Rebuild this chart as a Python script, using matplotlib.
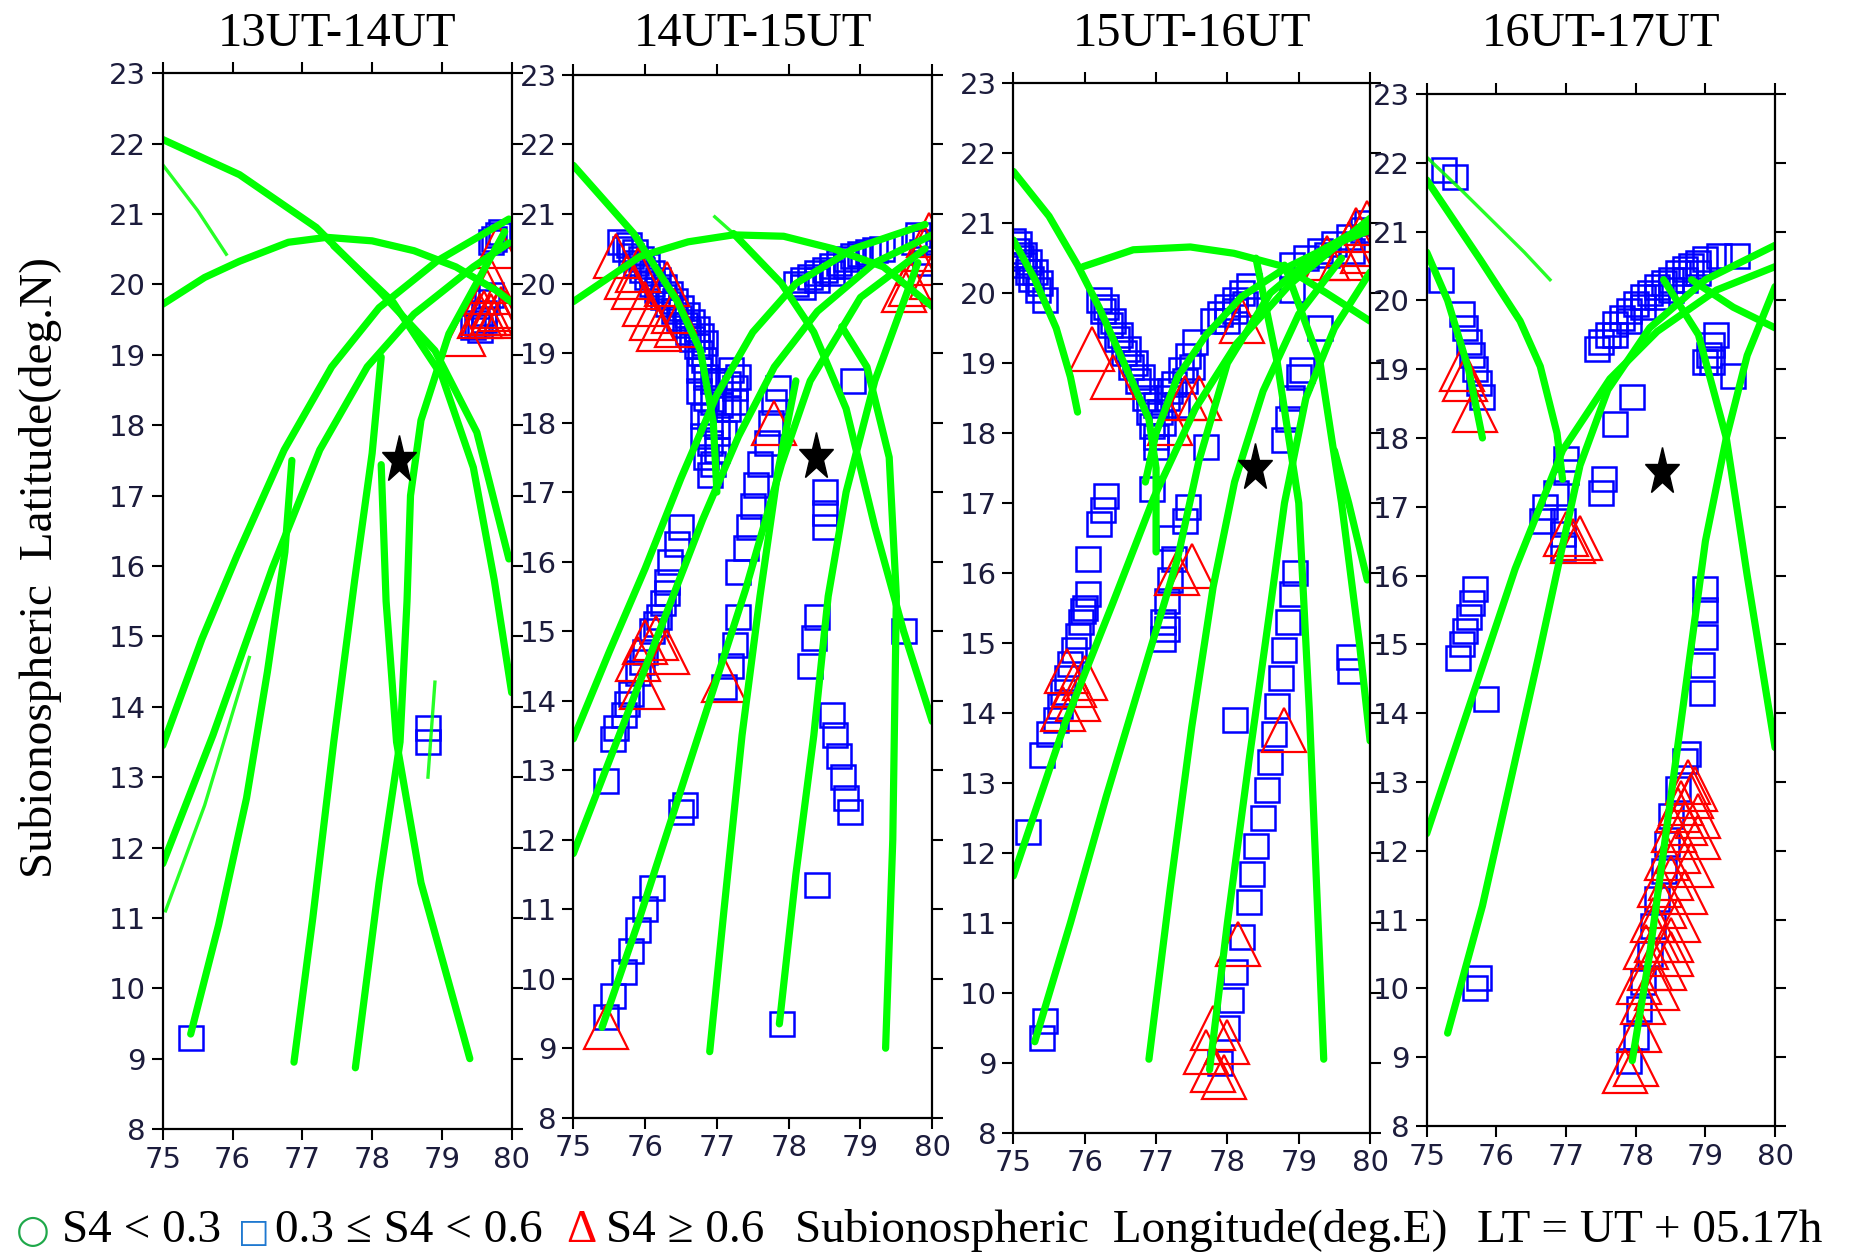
import matplotlib.pyplot as plt
from matplotlib.markers import MarkerStyle
from matplotlib.transforms import Affine2D

plt.rcParams['font.family'] = ['Liberation Serif', 'DejaVu Serif', 'DejaVu Sans']

lon_ticks = [75, 76, 77, 78, 79, 80]
lat_ticks = list(range(8, 24))
station = (78.38, 17.5)
titles = ['13UT-14UT', '14UT-15UT', '15UT-16UT', '16UT-17UT']

# ---- 13UT-14UT ----
p1_tracks = [
    [(75.0, 22.06), (76.1, 21.56), (77.2, 20.81), (78.1, 19.91), (78.9, 19.06), (79.5, 17.9), (79.96, 16.1)],
    [(75.0, 19.72), (75.6, 20.1), (76.1, 20.33), (76.8, 20.6), (77.35, 20.67), (78.0, 20.62), (78.6, 20.48),
     (79.2, 20.25), (79.77, 19.92), (80.0, 19.75)],
    [(77.45, 20.55), (78.3, 19.75), (79.0, 18.7), (79.45, 17.4), (79.75, 15.8), (80.0, 14.2)],
    [(75.0, 13.45), (75.56, 14.96), (76.06, 16.14), (76.74, 17.65), (77.42, 18.83), (78.1, 19.67),
     (78.94, 20.34), (79.96, 20.93)],
    [(75.0, 11.77), (75.72, 13.6), (76.57, 15.97), (77.25, 17.65), (77.93, 18.83), (78.6, 19.58),
     (79.45, 20.25), (79.96, 20.59)],
    [(75.4, 9.35), (75.8, 10.9), (76.2, 12.7), (76.5, 14.5), (76.75, 16.2), (76.85, 17.5)],
    [(76.88, 8.95), (77.15, 11.0), (77.45, 13.5), (77.75, 15.8), (78.0, 17.6), (78.13, 18.97)],
    [(77.76, 8.87), (78.1, 11.5), (78.4, 13.5), (78.5, 15.5), (78.55, 17.0), (78.7, 18.07), (79.1, 19.3),
     (79.9, 20.75)],
    [(78.13, 17.44), (78.2, 15.5), (78.35, 13.5), (78.7, 11.5), (79.4, 9.0)],
]
p1_thin = [
    [(75.0, 21.7), (75.5, 21.05), (75.91, 20.43)],
    [(75.04, 11.1), (75.6, 12.6), (76.24, 14.7)],
    [(78.9, 14.35), (78.8, 13.0)],
]
p1_mid = [(75.4, 9.3), (78.8, 13.5), (78.8, 13.7), (79.55, 19.35), (79.5, 19.45), (79.6, 19.6),
          (79.65, 19.75), (79.7, 19.85), (79.6, 19.5), (79.45, 19.4), (79.7, 20.6), (79.8, 20.7),
          (79.75, 20.65), (79.85, 20.75)]
p1_high = [(79.8, 20.55), (79.3, 19.3), (79.6, 19.6), (79.7, 19.55), (79.8, 19.6), (79.85, 19.65),
           (79.9, 19.6), (79.65, 19.9), (79.7, 20.05), (79.75, 19.7), (79.55, 19.55)]

# ---- 14UT-15UT ----
p2_tracks = [
    [(75.0, 21.7), (75.84, 20.72), (76.44, 19.76), (76.77, 19.04), (76.95, 18.0), (77.0, 17.0)],
    [(75.0, 19.74), (75.93, 20.39), (76.6, 20.6), (77.23, 20.7), (77.93, 20.68), (78.62, 20.5),
     (79.32, 20.24), (80.0, 19.67)],
    [(77.23, 20.72), (77.9, 20.0), (78.35, 19.3), (78.8, 18.2), (79.2, 16.5), (79.6, 15.0), (80.0, 13.7)],
    [(78.74, 19.38), (79.09, 18.8), (79.4, 17.5), (79.5, 15.5), (79.45, 12.0), (79.35, 9.0)],
    [(75.0, 13.45), (75.5, 14.7), (76.0, 15.9), (76.5, 17.2), (77.0, 18.4), (77.5, 19.3), (78.1, 20.0),
     (78.9, 20.5), (79.9, 20.85)],
    [(75.0, 11.8), (75.6, 13.4), (76.2, 15.0), (76.8, 16.6), (77.3, 17.8), (77.8, 18.8), (78.4, 19.6),
     (79.2, 20.3), (80.0, 20.7)],
    [(75.4, 9.3), (75.9, 10.8), (76.4, 12.4), (76.9, 14.0), (77.4, 15.6), (77.9, 17.4), (78.3, 18.6),
     (79.0, 19.8), (79.9, 20.5)],
    [(76.9, 8.95), (77.1, 11.0), (77.35, 13.5), (77.6, 15.5), (77.85, 17.3), (78.1, 18.6)],
    [(77.87, 9.35), (78.1, 11.5), (78.35, 13.5), (78.55, 15.5), (78.8, 17.0), (79.2, 18.6), (79.8, 20.3)],
]
p2_thin = [
    [(76.97, 20.96), (77.23, 20.72)],
]
p2_mid = [(75.65, 20.6), (75.72, 20.5), (75.8, 20.4), (75.88, 20.3), (75.95, 20.2), (76.02, 20.1),
          (76.1, 20.0), (76.17, 19.9), (76.25, 19.8), (76.32, 19.7), (76.4, 19.6), (76.47, 19.5),
          (76.55, 19.4), (76.6, 19.3), (76.66, 19.2), (76.72, 19.1), (76.77, 19.0), (76.82, 18.9),
          (75.78, 20.55), (75.86, 20.45), (75.94, 20.35), (76.02, 20.25), (76.1, 20.15), (76.18, 20.05),
          (76.26, 19.95), (76.34, 19.85), (76.42, 19.75), (76.5, 19.65), (76.58, 19.55), (76.66, 19.45),
          (76.72, 19.35), (76.78, 19.25), (76.84, 19.15),
          (76.75, 18.75), (76.85, 18.65), (76.95, 18.6), (77.05, 18.6), (77.15, 18.55), (77.25, 18.5),
          (76.75, 18.45), (76.85, 18.35), (76.95, 18.3), (77.05, 18.25), (77.15, 18.2), (77.25, 18.3),
          (76.8, 18.1), (76.9, 18.0), (77.0, 17.95), (77.1, 17.85), (76.8, 17.8), (76.9, 17.7),
          (77.0, 17.6), (76.85, 17.5), (76.95, 17.4), (76.9, 17.25), (77.3, 18.65), (77.2, 18.75),
          (76.5, 16.5), (76.45, 16.25), (76.35, 16.0), (76.3, 15.7), (76.25, 15.4), (76.2, 15.2),
          (76.1, 15.0), (76.0, 14.7), (75.9, 14.4), (75.8, 14.1), (75.7, 13.8), (75.6, 13.6),
          (75.55, 13.45), (75.45, 12.85), (76.3, 15.55), (76.15, 15.1), (75.95, 14.55), (75.75, 13.95),
          (75.45, 9.45), (75.55, 9.75), (75.7, 10.1), (75.8, 10.4), (75.9, 10.7), (76.0, 11.0),
          (76.1, 11.3), (76.5, 12.4), (76.55, 12.5),
          (77.1, 14.2), (77.2, 14.5), (77.25, 14.8), (77.3, 15.2), (77.3, 15.85), (77.4, 16.2),
          (77.45, 16.5), (77.5, 16.8), (77.55, 17.1), (77.6, 17.4), (77.7, 17.7), (77.75, 18.0),
          (77.8, 18.3), (77.85, 18.5),
          (78.5, 17.0), (78.5, 16.7), (78.5, 16.5), (78.4, 15.2), (78.35, 14.9), (78.3, 14.5),
          (78.6, 13.8), (78.65, 13.5), (78.7, 13.2), (78.75, 12.9), (78.8, 12.6), (78.85, 12.4),
          (78.4, 11.35), (77.9, 9.35), (78.9, 18.6), (79.6, 15.0),
          (78.1, 20.0), (78.2, 20.05), (78.3, 20.1), (78.4, 20.15), (78.5, 20.2), (78.6, 20.25),
          (78.7, 20.3), (78.8, 20.35), (78.9, 20.4), (79.0, 20.42), (79.1, 20.45), (79.2, 20.48),
          (79.3, 20.5), (78.2, 19.95), (78.4, 20.05), (78.6, 20.15), (78.8, 20.25),
          (79.75, 20.6), (79.85, 20.45), (79.9, 20.3), (79.8, 20.7), (79.9, 20.6)]
p2_high = [(75.6, 20.4), (75.75, 20.1), (75.85, 19.95), (76.0, 19.7), (76.1, 19.5), (76.2, 19.35),
           (75.9, 20.2), (76.3, 20.0), (76.4, 19.6), (76.45, 19.4), (75.9, 14.6), (76.0, 14.85),
           (76.15, 14.9), (76.3, 14.7), (75.95, 14.2), (75.45, 9.3), (77.1, 14.3), (77.8, 18.0),
           (79.7, 20.0), (79.8, 20.3), (79.9, 20.5), (79.95, 20.7), (79.6, 19.9), (80.0, 20.1)]

# ---- 15UT-16UT ----
p3_tracks = [
    [(75.0, 21.74), (75.5, 21.1), (75.9, 20.4), (76.2, 19.8), (76.55, 19.0), (76.9, 18.2), (77.0, 17.5),
     (77.0, 16.3)],
    [(75.0, 20.76), (75.3, 20.2), (75.6, 19.5), (75.8, 18.8), (75.9, 18.3)],
    [(75.98, 20.38), (76.68, 20.62), (77.48, 20.66), (78.09, 20.57), (78.79, 20.38), (79.39, 20.0),
     (80.0, 19.6)],
    [(75.0, 11.67), (75.73, 13.87), (76.39, 15.56), (76.97, 17.08), (77.55, 18.35), (78.13, 19.28),
     (78.88, 20.13), (80.0, 21.07)],
    [(75.3, 9.3), (75.8, 11.0), (76.3, 12.8), (76.8, 14.5), (77.3, 16.2), (77.6, 17.6), (78.0, 19.0),
     (78.6, 20.0), (79.3, 20.6), (80.0, 21.0)],
    [(76.85, 17.3), (77.0, 18.0), (77.3, 18.8), (77.7, 19.4), (78.2, 19.95), (78.8, 20.35), (79.5, 20.7),
     (80.0, 20.9)],
    [(76.9, 9.05), (77.2, 11.5), (77.5, 13.8), (77.8, 15.8), (78.1, 17.3), (78.5, 18.6), (79.0, 19.7),
     (79.6, 20.5)],
    [(77.75, 8.9), (78.0, 11.0), (78.3, 13.3), (78.6, 15.5), (78.8, 17.0), (79.1, 18.5), (79.5, 19.5),
     (80.0, 20.3)],
    [(78.4, 20.5), (78.7, 19.0), (79.0, 17.0), (79.15, 14.0), (79.35, 9.05)],
    [(79.5, 17.75), (79.7, 17.0), (79.96, 15.9)],
    [(78.8, 20.4), (79.3, 19.0), (79.6, 17.0), (79.85, 15.0), (80.0, 13.6)],
]
p3_thin = []
p3_mid = [(75.0, 20.75), (75.05, 20.6), (75.1, 20.5), (75.15, 20.4), (75.2, 20.3), (75.25, 20.2),
          (75.35, 20.05), (75.45, 19.9), (75.08, 20.7), (75.15, 20.55), (75.22, 20.45), (75.3, 20.3),
          (75.38, 20.15),
          (76.2, 19.9), (76.25, 19.75), (76.35, 19.55), (76.45, 19.35), (76.55, 19.15), (76.65, 18.95),
          (76.75, 18.75), (76.85, 18.5), (76.9, 18.3), (76.95, 18.1), (77.0, 17.95),
          (76.3, 19.8), (76.4, 19.6), (76.5, 19.4), (76.6, 19.2), (76.7, 19.0), (76.8, 18.8),
          (76.9, 18.6), (77.0, 18.4),
          (77.05, 18.3), (77.15, 18.5), (77.25, 18.7), (77.35, 18.9), (77.45, 19.1), (77.55, 19.3),
          (77.2, 18.6), (77.3, 18.4), (77.1, 18.15), (77.4, 18.75), (77.5, 18.95),
          (77.9, 19.7), (78.0, 19.8), (78.1, 19.9), (78.2, 20.0), (78.3, 20.1), (78.1, 19.75),
          (78.0, 19.6), (78.9, 20.05), (77.8, 19.6), (78.25, 19.85),
          (78.9, 20.4), (79.1, 20.5), (79.3, 20.6), (79.5, 20.7), (79.7, 20.8), (79.9, 20.9),
          (79.4, 20.55), (79.75, 20.6), (79.95, 21.0),
          (76.3, 17.1), (76.25, 16.9), (76.2, 16.7), (76.05, 16.2), (76.0, 15.5), (75.95, 15.3),
          (75.9, 15.1), (75.85, 14.9), (75.8, 14.7), (75.75, 14.5), (75.7, 14.3), (75.65, 14.1),
          (75.6, 13.9), (75.5, 13.7), (75.4, 13.4), (76.05, 15.7), (75.98, 15.45),
          (75.2, 12.3), (75.45, 9.6), (75.4, 9.35), (77.0, 17.8), (76.95, 17.2),
          (77.2, 16.5), (77.25, 16.2), (77.2, 15.9), (77.15, 15.6), (77.1, 15.3), (77.1, 15.05),
          (77.15, 15.2), (77.4, 16.75), (77.45, 16.95), (77.7, 17.8), (78.1, 13.9),
          (77.9, 9.0), (78.0, 9.5), (78.05, 9.9), (78.1, 10.3), (78.2, 10.8), (78.3, 11.3), (78.35, 11.7),
          (78.4, 12.1), (78.5, 12.5), (78.55, 12.9), (78.6, 13.3), (78.65, 13.7), (78.7, 14.1),
          (78.75, 14.5), (78.8, 14.9), (78.85, 15.3), (78.9, 15.7), (78.95, 16.0), (78.8, 17.9),
          (78.85, 18.2), (78.9, 18.5), (79.0, 18.8),
          (79.3, 19.5), (79.7, 14.8), (79.72, 14.6), (79.05, 18.9)]
p3_high = [(76.1, 19.2), (76.4, 18.8), (77.2, 18.15), (77.4, 18.5), (77.6, 18.5), (78.2, 19.6),
           (75.75, 14.6), (75.85, 14.4), (75.9, 14.2), (75.7, 14.05), (76.0, 14.5), (77.3, 16.0),
           (77.5, 16.1), (78.8, 13.75), (78.15, 10.7), (77.8, 9.5), (77.7, 9.15), (77.8, 8.9),
           (77.95, 8.8), (78.0, 9.3), (79.4, 20.5), (79.7, 20.7), (79.8, 20.9), (79.95, 21.0),
           (79.9, 20.6), (79.6, 20.5)]

# ---- 16UT-17UT ----
p4_tracks = [
    [(75.0, 21.75), (75.77, 20.59), (76.34, 19.7), (76.63, 19.04), (76.87, 18.07), (76.95, 17.4)],
    [(75.0, 20.7), (75.3, 20.0), (75.6, 19.0), (75.8, 18.0)],
    [(75.0, 12.25), (75.59, 14.04), (76.27, 16.1), (76.95, 17.82), (77.63, 18.86), (78.31, 19.55),
     (79.16, 20.15), (80.0, 20.49)],
    [(75.3, 9.35), (75.8, 11.2), (76.2, 13.0), (76.6, 14.8), (76.9, 16.2), (77.2, 17.6), (77.6, 18.7),
     (78.2, 19.6), (79.0, 20.3), (80.0, 20.8)],
    [(77.95, 8.95), (78.2, 10.5), (78.4, 12.0), (78.6, 13.5), (78.8, 15.0), (79.0, 16.5), (79.3, 18.0),
     (79.6, 19.2), (80.0, 20.2)],
    [(78.4, 20.3), (78.9, 19.5), (79.3, 18.0), (79.6, 16.0), (80.0, 13.5)],
    [(78.8, 20.3), (79.4, 19.9), (80.0, 19.6)],
]
p4_thin = [
    [(74.98, 22.1), (75.5, 21.6), (76.0, 21.1), (76.4, 20.7), (76.77, 20.3)],
]
p4_mid = [(75.25, 21.9), (75.4, 21.8), (75.2, 20.3), (75.5, 19.8), (75.55, 19.6), (75.6, 19.4),
          (75.65, 19.2), (75.7, 19.0), (75.75, 18.8), (75.8, 18.6),
          (75.45, 14.8), (75.5, 15.0), (75.55, 15.2), (75.6, 15.4), (75.65, 15.6), (75.7, 15.8),
          (75.85, 14.2), (75.7, 10.0), (75.75, 10.15),
          (76.65, 16.8), (76.7, 17.0), (76.85, 17.2), (76.95, 16.8), (76.95, 16.6), (76.95, 16.4),
          (77.0, 17.5), (77.0, 17.7), (77.5, 17.2), (77.55, 17.4), (77.7, 18.2), (77.95, 18.6),
          (77.5, 19.4), (77.45, 19.3),
          (77.6, 19.5), (77.7, 19.65), (77.8, 19.75), (77.9, 19.85), (78.0, 19.95), (78.1, 20.05),
          (78.2, 20.1), (78.3, 20.2), (78.4, 20.25), (78.5, 20.3), (78.6, 20.4), (78.7, 20.45),
          (78.8, 20.5), (78.9, 20.55), (79.0, 20.6), (79.2, 20.65),
          (77.7, 19.5), (77.9, 19.7), (78.1, 19.9), (78.3, 20.05), (78.5, 20.15), (78.7, 20.3),
          (78.9, 20.4),
          (79.05, 19.2), (79.1, 19.35), (79.15, 19.5), (79.4, 18.9), (79.0, 19.1), (79.1, 19.1),
          (77.9, 8.95), (78.0, 9.3), (78.05, 9.7), (78.1, 10.1), (78.2, 10.5), (78.25, 10.9),
          (78.3, 11.3), (78.4, 11.7), (78.45, 12.1), (78.5, 12.5), (78.6, 12.9), (78.7, 13.3),
          (78.75, 13.4), (78.95, 14.3), (78.95, 14.7), (79.0, 15.1), (79.0, 15.5), (79.0, 15.8),
          (79.45, 20.65)]
p4_high = [(75.5, 19.0), (75.55, 18.85), (75.7, 18.4), (77.0, 16.6), (77.1, 16.5), (77.2, 16.55),
           (77.85, 8.8), (78.0, 8.9), (78.05, 9.4), (78.1, 9.8), (78.05, 10.1), (78.2, 10.3),
           (78.15, 10.6), (78.3, 10.7), (78.25, 11.0), (78.4, 11.2), (78.35, 11.5), (78.5, 11.6),
           (78.45, 11.9), (78.6, 12.0), (78.55, 12.3), (78.7, 12.4), (78.65, 12.7), (78.8, 12.8),
           (78.75, 13.0), (78.9, 12.5), (78.9, 12.2), (78.8, 11.8), (78.7, 11.4), (78.6, 11.0),
           (78.5, 10.7), (78.4, 10.3), (78.3, 10.0), (78.85, 12.9), (78.6, 12.6), (78.5, 10.5)]

# axes rectangles in figure fractions (left, bottom, width, height)
rects = [
    (0.0877, 0.1011, 0.1880, 0.8405),
    (0.3089, 0.1101, 0.1934, 0.8302),
    (0.5460, 0.0982, 0.1922, 0.8355),
    (0.7687, 0.1035, 0.1877, 0.8217),
]
panels = [
    (p1_tracks, p1_thin, p1_mid, p1_high),
    (p2_tracks, p2_thin, p2_mid, p2_high),
    (p3_tracks, p3_thin, p3_mid, p3_high),
    (p4_tracks, p4_thin, p4_mid, p4_high),
]

GREEN = '#00ff00'
star = MarkerStyle('*', transform=Affine2D().scale(0.72, 1.0))

fig = plt.figure(figsize=(18.56, 12.56), dpi=100)

for rect, title, (tracks, thin, mid, high) in zip(rects, titles, panels):
    ax = fig.add_axes(rect)
    if mid:
        xs, ys = zip(*mid)
        ax.plot(xs, ys, ls='none', marker='s', ms=17, mfc='none', mec='#0000ff', mew=1.8)
    if high:
        xs, ys = zip(*high)
        ax.plot(xs, ys, ls='none', marker='^', ms=31, mfc='none', mec='#ff0000', mew=1.6)
    for tr in tracks:
        xs, ys = zip(*tr)
        ax.plot(xs, ys, color=GREEN, lw=5.2, solid_capstyle='round', solid_joinstyle='round')
    for tr in thin:
        xs, ys = zip(*tr)
        ax.plot(xs, ys, color=GREEN, lw=2.4, alpha=0.85)
    ax.plot([station[0]], [station[1]], marker=star, ms=36, color='black', ls='none', zorder=5)

    ax.set_xlim(75, 80)
    ax.set_ylim(8, 23)
    ax.set_xticks(lon_ticks)
    ax.set_yticks(lat_ticks)
    ax.tick_params(direction='out', length=8, width=1.5, top=True, right=True,
                   labelsize=21, labelcolor='#1c1c3c', pad=4)
    for lab in ax.get_xticklabels() + ax.get_yticklabels():
        lab.set_fontfamily('DejaVu Sans')
    for sp in ax.spines.values():
        sp.set_linewidth(1.6)

    cx = rect[0] + rect[2] / 2
    fig.text(cx, 0.963, title, ha='center', va='baseline', fontsize=35)

fig.text(0.022, 0.548, 'Subionospheric  Latitude(deg.N)', rotation=90,
         ha='center', va='center', fontsize=34)

# bottom legend line
base_y = 0.011
legend_parts = [
    (16, '\u25cb', '#1fa84a', 28),
    (62, 'S4 < 0.3', 'black', 34),
    (238, '\u25a1', '#1e78d0', 24),
    (275, '0.3 \u2264 S4 < 0.6', 'black', 34),
    (566, '\u0394', '#ff0000', 34),
    (606, 'S4 \u2265 0.6', 'black', 34),
    (795, 'Subionospheric  Longitude(deg.E)', 'black', 34),
    (1477, 'LT = UT + 05.17h', 'black', 34),
]
for px, txt, col, fs in legend_parts:
    fig.text(px / 1856, base_y, txt, ha='left', va='baseline', fontsize=fs, color=col,
             family=['DejaVu Sans'] if txt in ('\u25cb', '\u25a1') else None)

fig.savefig('out.png', dpi=100)
